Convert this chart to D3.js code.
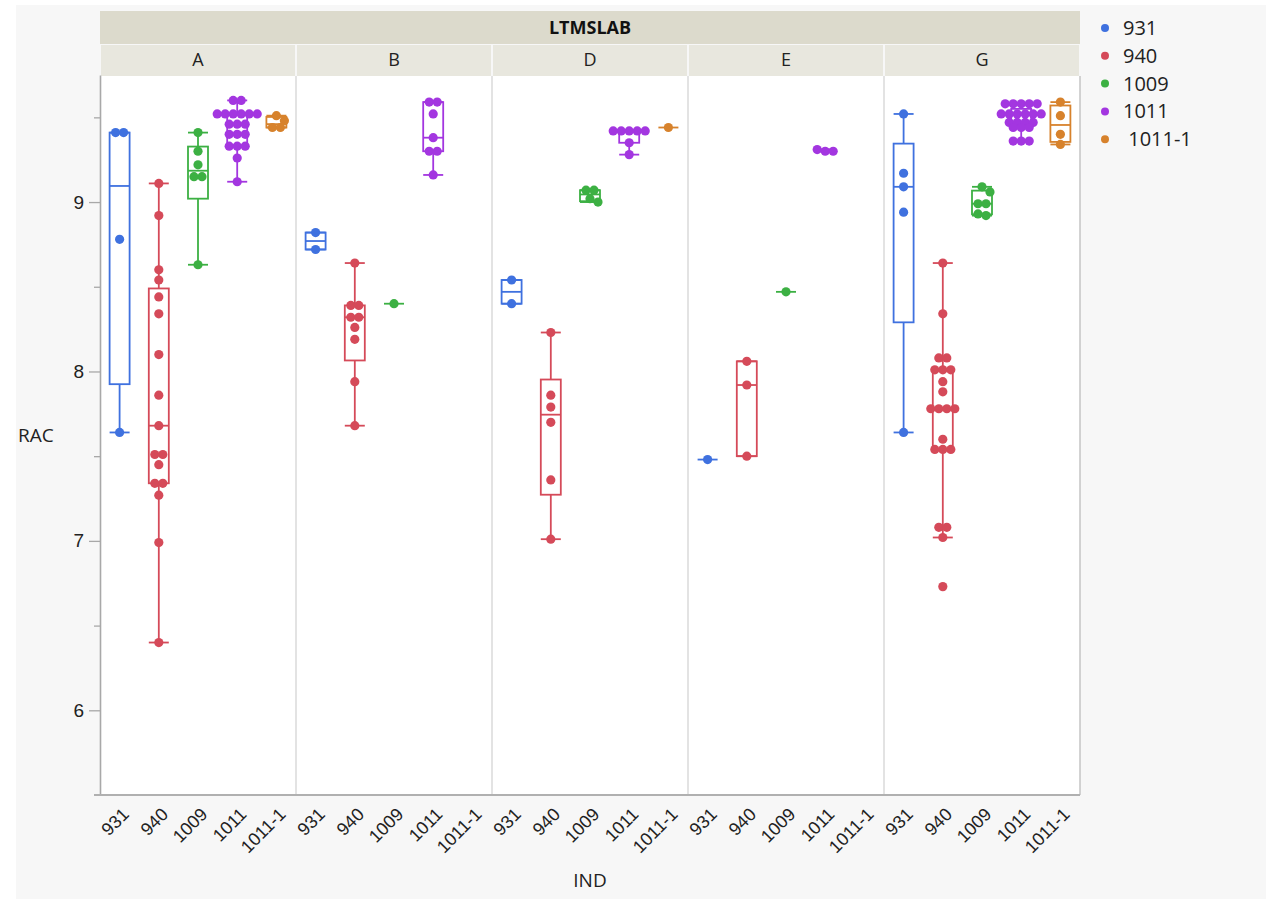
<!DOCTYPE html>
<html>
<head>
<meta charset="utf-8">
<script src="https://cdn.jsdelivr.net/npm/d3@7"></script>
<style>
  html, body { margin: 0; padding: 0; background: #ffffff; }
  svg { display: block; font-family: "Open Sans", "Noto Sans", sans-serif; }
</style>
</head>
<body>
<script>
// ---------- DATA ----------
const panels = ["A", "B", "D", "E", "G"];
const inds = ["931", "940", "1009", "1011", "1011-1"];
const colors = ["#3f71df", "#d54a59", "#3cb043", "#a336e0", "#d7822c"];

// values per panel, in order of inds
const panelA = [
  [9.41, 9.41, 8.78, 7.64],
  [9.11, 8.92, 8.60, 8.54, 8.44, 8.34, 8.10, 7.86, 7.68, 7.51, 7.51, 7.45, 7.34, 7.34, 7.27, 6.99, 6.40],
  [9.41, 9.30, 9.22, 9.15, 9.15, 8.63],
  [9.60, 9.60, 9.52, 9.52, 9.52, 9.52, 9.52, 9.52, 9.46, 9.46, 9.46, 9.40, 9.40, 9.40, 9.33, 9.33, 9.33, 9.26, 9.12],
  [9.51, 9.48, 9.44, 9.44]
];
const panelB = [
  [8.82, 8.72],
  [8.64, 8.39, 8.39, 8.32, 8.32, 8.26, 8.19, 7.94, 7.68],
  [8.40],
  [9.59, 9.59, 9.52, 9.38, 9.30, 9.30, 9.16],
  []
];
const panelD = [
  [8.54, 8.40],
  [8.23, 7.86, 7.79, 7.70, 7.36, 7.01],
  [9.07, 9.07, 9.02, 9.00],
  [9.42, 9.42, 9.42, 9.42, 9.42, 9.35, 9.28],
  [9.44]
];
const panelE = [
  [7.48],
  [8.06, 7.92, 7.50],
  [8.47],
  [9.30, 9.30, 9.31],
  []
];
const panelG = [
  [9.52, 9.17, 9.09, 8.94, 7.64],
  [8.64, 8.34, 8.08, 8.08, 8.01, 8.01, 8.01, 7.94, 7.88, 7.78, 7.78, 7.78, 7.78, 7.60, 7.54, 7.54, 7.54, 7.08, 7.08, 7.02, 6.73],
  [9.09, 9.06, 8.99, 8.99, 8.93, 8.92],
  [9.58, 9.58, 9.58, 9.58, 9.58, 9.52, 9.52, 9.52, 9.52, 9.52, 9.52, 9.47, 9.47, 9.47, 9.47, 9.44, 9.44, 9.44, 9.36, 9.36, 9.36],
  [9.59, 9.51, 9.40, 9.34]
];
const panelValues = [panelA, panelB, panelD, panelE, panelG];
const yDomain = [5.5, 9.75];
const yMajorTicks = [6, 7, 8, 9];
const yMinorTicks = [6.5, 7.5, 8.5, 9.5];
const titleText = "LTMSLAB";
const xTitle = "IND";
const yTitle = "RAC";

// ---------- LAYOUT ----------
const W = 1266, H = 899;
const plotL = 100, plotR = 1080, plotT = 76, plotB = 795;
const fontSize = 19;

const svg = d3.select("body").append("svg").attr("width", W).attr("height", H);

svg.append("rect").attr("x", 16).attr("y", 5).attr("width", W - 16).attr("height", H - 5).attr("fill", "#f7f7f7");
svg.append("rect").attr("x", plotL).attr("y", plotT).attr("width", plotR - plotL).attr("height", plotB - plotT).attr("fill", "#ffffff");

const xPanel = d3.scaleBand().domain(panels).range([plotL, plotR]).padding(0);
const xInner = d3.scaleBand().domain(inds).range([0, xPanel.bandwidth()]).padding(0);
const y = d3.scaleLinear().domain(yDomain).range([plotB, plotT - 1]);

// header bands
svg.append("rect").attr("x", plotL).attr("y", 11).attr("width", plotR - plotL).attr("height", 33).attr("fill", "#dcdacc");
svg.append("text").attr("x", (plotL + plotR) / 2).attr("y", 28).attr("dy", "0.35em")
  .attr("text-anchor", "middle").attr("font-weight", "bold").attr("font-size", fontSize - 1).attr("fill", "#111")
  .text(titleText);
panels.forEach(p => {
  svg.append("rect").attr("x", xPanel(p) + 1).attr("y", 45).attr("width", xPanel.bandwidth() - 2).attr("height", 31).attr("fill", "#e8e7de");
  svg.append("text").attr("x", xPanel(p) + xPanel.bandwidth() / 2).attr("y", 60).attr("dy", "0.35em")
    .attr("text-anchor", "middle").attr("font-size", fontSize - 1).attr("fill", "#222").text(p);
});

// panel separators
panels.slice(1).forEach(p => {
  svg.append("line").attr("x1", xPanel(p)).attr("x2", xPanel(p)).attr("y1", plotT).attr("y2", plotB)
    .attr("stroke", "#dadada").attr("stroke-width", 1.5);
});
svg.append("line").attr("x1", plotR).attr("x2", plotR).attr("y1", plotT).attr("y2", plotB)
  .attr("stroke", "#c4c4c4").attr("stroke-width", 1.5);

// y axis
const yAxis = svg.append("g").attr("transform", `translate(${plotL},0)`)
  .call(d3.axisLeft(y).tickValues(yMajorTicks).tickSize(11).tickSizeOuter(0).tickPadding(5).tickFormat(d3.format("d")));
yAxis.select(".domain").attr("stroke", "#a8a8a8").attr("stroke-width", 1.6);
yAxis.selectAll(".tick line").attr("stroke", "#a8a8a8").attr("stroke-width", 1.3);
yAxis.selectAll(".tick text").attr("font-size", fontSize).attr("fill", "#222").attr("font-family", null);
const yMinor = svg.append("g").attr("transform", `translate(${plotL},0)`)
  .call(d3.axisLeft(y).tickValues(yMinorTicks).tickSize(6).tickFormat(""));
yMinor.select(".domain").remove();
yMinor.selectAll(".tick line").attr("stroke", "#a8a8a8").attr("stroke-width", 1.3);

// bottom axis line
svg.append("line").attr("x1", plotL - 6).attr("x2", plotR).attr("y1", plotB).attr("y2", plotB)
  .attr("stroke", "#b0b0b0").attr("stroke-width", 2);

// x axes per panel
panels.forEach(p => {
  const g = svg.append("g").attr("transform", `translate(${xPanel(p)},${plotB})`)
    .call(d3.axisBottom(xInner).tickSize(0).tickPadding(0));
  g.select(".domain").remove();
  g.selectAll(".tick text")
    .attr("font-size", fontSize - 1).attr("fill", "#222").attr("font-family", null)
    .attr("text-anchor", "end").attr("y", 0).attr("dy", "0.35em")
    .attr("transform", "translate(6,16) rotate(-45)");
});

// axis titles
svg.append("text").attr("x", (plotL + plotR) / 2).attr("y", 880).attr("dy", "0.35em")
  .attr("text-anchor", "middle").attr("font-size", fontSize).attr("fill", "#222").text(xTitle);
svg.append("text").attr("x", 18).attr("y", y(7.62)).attr("dy", "0.35em")
  .attr("text-anchor", "start").attr("font-size", fontSize).attr("fill", "#222").text(yTitle);

// ---------- stats ----------
function quant(s, p) {
  const n = s.length;
  const pos = (n + 1) * p;
  if (pos <= 1) return s[0];
  if (pos >= n) return s[n - 1];
  const i = Math.floor(pos), f = pos - i;
  return s[i - 1] + f * (s[i] - s[i - 1]);
}

const boxW = 20, capW = 20, r = 4.6, rowSpacing = 8, collide = 7.5;

panels.forEach((p, pi) => {
  inds.forEach((ind, ii) => {
    const vals = panelValues[pi][ii];
    if (!vals.length) return;
    const col = colors[ii];
    const cx = xPanel(p) + xInner(ind) + xInner.bandwidth() / 2;
    const g = svg.append("g");
    const s = vals.slice().sort((a, b) => a - b);
    const n = s.length;
    if (n === 1) {
      g.append("line").attr("x1", cx - boxW / 2).attr("x2", cx + boxW / 2)
        .attr("y1", y(s[0])).attr("y2", y(s[0])).attr("stroke", col).attr("stroke-width", 1.8);
    } else {
      const q1 = quant(s, 0.25), med = quant(s, 0.5), q3 = quant(s, 0.75);
      const iqr = q3 - q1;
      const lo = d3.min(s.filter(v => v >= q1 - 1.5 * iqr));
      const hi = d3.max(s.filter(v => v <= q3 + 1.5 * iqr));
      g.append("line").attr("x1", cx).attr("x2", cx).attr("y1", y(q3)).attr("y2", y(hi)).attr("stroke", col).attr("stroke-width", 1.8);
      g.append("line").attr("x1", cx).attr("x2", cx).attr("y1", y(q1)).attr("y2", y(lo)).attr("stroke", col).attr("stroke-width", 1.8);
      g.append("line").attr("x1", cx - capW / 2).attr("x2", cx + capW / 2).attr("y1", y(hi)).attr("y2", y(hi)).attr("stroke", col).attr("stroke-width", 1.8);
      g.append("line").attr("x1", cx - capW / 2).attr("x2", cx + capW / 2).attr("y1", y(lo)).attr("y2", y(lo)).attr("stroke", col).attr("stroke-width", 1.8);
      g.append("rect").attr("x", cx - boxW / 2).attr("y", y(q3)).attr("width", boxW).attr("height", Math.max(0.01, y(q1) - y(q3)))
        .attr("fill", "none").attr("stroke", col).attr("stroke-width", 1.8);
      g.append("line").attr("x1", cx - boxW / 2).attr("x2", cx + boxW / 2).attr("y1", y(med)).attr("y2", y(med)).attr("stroke", col).attr("stroke-width", 1.8);
    }
    // jittered points: group into rows, center rows, shift to avoid collision
    const desc = s.slice().reverse();
    const rows = [];
    desc.forEach(v => {
      const py = y(v);
      const last = rows[rows.length - 1];
      if (last && Math.abs(py - last.y0) <= 3) last.pts.push(py);
      else rows.push({ y0: py, pts: [py] });
    });
    const placed = [];
    rows.forEach(row => {
      const k = row.pts.length;
      const base = row.pts.map((py, i) => ({ dx: (i - (k - 1) / 2) * rowSpacing, py }));
      const shifts = [0, rowSpacing / 2, -rowSpacing / 2, rowSpacing, -rowSpacing];
      let chosen = 0;
      for (const sh of shifts) {
        const ok = base.every(b => placed.every(q => Math.hypot(b.dx + sh - q.dx, b.py - q.py) >= collide));
        if (ok) { chosen = sh; break; }
      }
      base.forEach(b => placed.push({ dx: b.dx + chosen, py: b.py }));
    });
    g.selectAll("circle.pt").data(placed).enter().append("circle")
      .attr("cx", d => cx + d.dx).attr("cy", d => d.py).attr("r", r).attr("fill", col);
  });
});

// ---------- legend ----------
const legendLabels = ["931", "940", "1009", "1011", " 1011-1"];
const lg = svg.append("g");
legendLabels.forEach((lab, i) => {
  const ly = 28 + i * 27.8;
  lg.append("circle").attr("cx", 1105).attr("cy", ly).attr("r", 4).attr("fill", colors[i]);
  lg.append("text").attr("x", 1123).attr("y", ly).attr("dy", "0.35em").attr("font-size", fontSize + 1)
    .attr("fill", "#222").attr("xml:space", "preserve").style("white-space", "pre").text(lab);
});
</script>
</body>
</html>
